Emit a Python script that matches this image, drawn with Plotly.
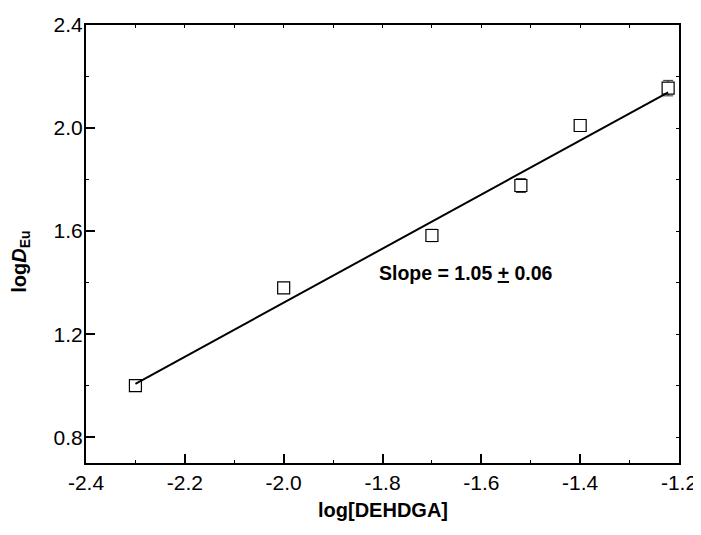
import plotly.graph_objects as go

log_dehdga = [-2.3, -2.0, -1.7, -1.52, -1.4, -1.222]
log_d_eu = [1.00, 1.38, 1.583, 1.777, 2.01, 2.155]
err = [0.012, 0.012, 0.024, 0.027, 0.023, 0.03]

fit_x = [-2.3, -1.222]
slope = 1.05
intercept = 1.007 + slope * 2.3
fit_y = [intercept + slope * v for v in fit_x]

x_tickvals = [-2.4, -2.2, -2.0, -1.8, -1.6, -1.4, -1.2]
x_ticktext = ["-2.4", "-2.2", "-2.0", "-1.8", "-1.6", "-1.4", "-1.2"]
y_tickvals = [0.8, 1.2, 1.6, 2.0, 2.4]
y_ticktext = ["0.8", "1.2", "1.6", "2.0", "2.4"]

FONT = "Liberation Sans, Arial, sans-serif"

fig = go.Figure()
fig.add_trace(go.Scatter(
    x=log_dehdga, y=log_d_eu, mode="markers",
    marker=dict(symbol="square", size=12, color="white", line=dict(width=1.2, color="black")),
    error_y=dict(type="data", array=err, visible=True, color="#333", thickness=1, width=5),
    showlegend=False,
))
fig.add_trace(go.Scatter(
    x=fit_x, y=fit_y, mode="lines",
    line=dict(color="black", width=2), showlegend=False,
))
fig.add_trace(go.Scatter(
    x=[-2.0], y=[1.5], xaxis="x2", yaxis="y2", mode="markers",
    marker=dict(opacity=0), showlegend=False, hoverinfo="skip",
))

fig.add_annotation(
    x=-1.811, y=1.437, xref="x", yref="y", xanchor="left",
    text="<b>Slope = 1.05 <u>+</u> 0.06</b>", showarrow=False,
    font=dict(family=FONT, size=19.5, color="black"),
)
fig.add_annotation(
    x=0.5, y=-0.107, xref="paper", yref="paper", xanchor="center", yanchor="middle",
    text="<b>log[DEHDGA]</b>", showarrow=False,
    font=dict(family=FONT, size=20, color="black"),
)
fig.add_annotation(
    x=-0.11, y=0.459, xref="paper", yref="paper", xanchor="center", yanchor="middle",
    text="<b>log<i>D</i><sub>Eu</sub></b>", showarrow=False, textangle=-90,
    font=dict(family=FONT, size=20, color="black"),
)

axis_common = dict(
    showgrid=False, zeroline=False, showline=True, linecolor="black", linewidth=2,
    ticks="inside", tickcolor="black", tickwidth=1.5, ticklen=9,
    tickfont=dict(family=FONT, size=21, color="black"), automargin=False,
)

fig.update_layout(
    width=693, height=527,
    margin=dict(l=78, r=22, t=17, b=72),
    plot_bgcolor="white", paper_bgcolor="white",
    xaxis=dict(
        range=[-2.4, -1.2], tickmode="array", tickvals=x_tickvals, ticktext=x_ticktext,
        minor=dict(dtick=0.1, tick0=-2.4, ticks="inside", ticklen=3, tickcolor="black", tickwidth=1),
        ticklabelstandoff=0,
        **axis_common,
    ),
    yaxis=dict(
        range=[0.7, 2.4], tickmode="array", tickvals=y_tickvals, ticktext=y_ticktext,
        minor=dict(dtick=0.2, tick0=0.8, ticks="inside", ticklen=3, tickcolor="black", tickwidth=1),
        ticklabelstandoff=-3,
        **axis_common,
    ),
    xaxis2=dict(
        overlaying="x", side="top", range=[-2.4, -1.2], dtick=0.1, tick0=-2.4,
        showgrid=False, zeroline=False, showline=True, linecolor="black", linewidth=2,
        ticks="inside", ticklen=3, tickcolor="black", tickwidth=1, showticklabels=False,
        automargin=False,
    ),
    yaxis2=dict(
        overlaying="y", side="right", anchor="x2", range=[0.7, 2.4], dtick=0.2, tick0=0.8,
        showgrid=False, zeroline=False, showline=True, linecolor="black", linewidth=2,
        ticks="inside", ticklen=3, tickcolor="black", tickwidth=1, showticklabels=False,
        automargin=False,
    ),
)

fig.write_html("out.html")
